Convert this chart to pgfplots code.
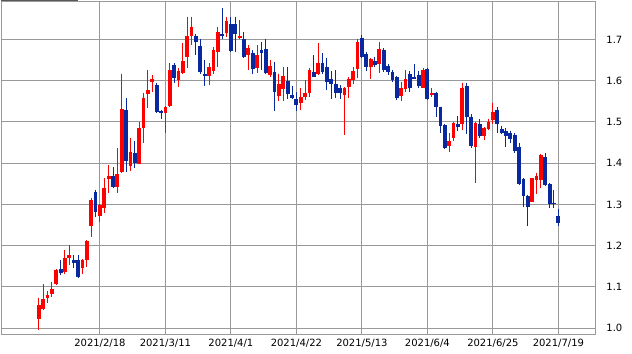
\documentclass[border=0pt]{standalone}
\usepackage{pgfplots}
\usepackage{pgfplotstable}
\pgfplotsset{compat=1.18}
\usepackage{fontspec}
\setmainfont{DejaVu Sans}
\definecolor{upred}{RGB}{255,0,0}
\definecolor{dnblue}{RGB}{8,40,160}
\definecolor{gridgray}{RGB}{153,153,153}

\pgfplotstableread{
i o h l c
-14 1.023 1.074 0.996 1.055
-13 1.046 1.107 1.043 1.071
-12 1.072 1.090 1.061 1.080
-11 1.084 1.113 1.075 1.095
-10 1.107 1.144 1.105 1.141
-8 1.137 1.190 1.131 1.170
-7 1.170 1.201 1.153 1.177
-4 1.147 1.168 1.131 1.165
-3 1.165 1.214 1.149 1.211
-2 1.248 1.315 1.222 1.311
0 1.272 1.300 1.258 1.299
1 1.292 1.363 1.278 1.339
2 1.362 1.395 1.327 1.369
4 1.343 1.436 1.328 1.374
5 1.379 1.617 1.375 1.531
7 1.394 1.460 1.382 1.426
9 1.399 1.500 1.397 1.486
10 1.486 1.571 1.449 1.558
11 1.567 1.625 1.534 1.577
12 1.597 1.613 1.573 1.604
15 1.521 1.538 1.474 1.535
16 1.538 1.642 1.535 1.625
18 1.601 1.630 1.585 1.623
19 1.619 1.690 1.616 1.647
20 1.658 1.755 1.630 1.708
21 1.708 1.755 1.686 1.730
25 1.612 1.642 1.589 1.632
26 1.623 1.682 1.616 1.674
27 1.670 1.730 1.633 1.717
29 1.716 1.755 1.706 1.744
32 1.704 1.747 1.700 1.708
34 1.663 1.686 1.625 1.678
36 1.631 1.686 1.619 1.662
39 1.613 1.650 1.609 1.635
41 1.563 1.617 1.551 1.592
42 1.579 1.633 1.551 1.611
46 1.546 1.581 1.530 1.560
47 1.561 1.601 1.553 1.569
48 1.569 1.630 1.561 1.625
50 1.616 1.690 1.613 1.643
56 1.565 1.584 1.468 1.581
57 1.585 1.608 1.558 1.605
58 1.601 1.633 1.591 1.623
59 1.628 1.700 1.607 1.694
62 1.633 1.654 1.604 1.652
64 1.640 1.694 1.619 1.676
69 1.563 1.597 1.550 1.583
70 1.579 1.625 1.573 1.605
74 1.583 1.630 1.581 1.625
76 1.565 1.581 1.561 1.569
80 1.442 1.472 1.428 1.453
81 1.461 1.500 1.454 1.498
83 1.494 1.595 1.480 1.583
86 1.440 1.499 1.352 1.497
88 1.466 1.488 1.456 1.486
89 1.483 1.508 1.480 1.500
90 1.504 1.546 1.496 1.524
99 1.307 1.365 1.307 1.363
100 1.360 1.377 1.325 1.369
101 1.359 1.422 1.339 1.420
}\up

\pgfplotstableread{
i o h l c
-9 1.144 1.165 1.130 1.134
-6 1.165 1.178 1.145 1.159
-5 1.165 1.177 1.122 1.124
-1 1.329 1.335 1.270 1.282
3 1.369 1.391 1.339 1.343
6 1.529 1.557 1.379 1.406
8 1.424 1.454 1.389 1.400
13 1.589 1.595 1.521 1.525
14 1.526 1.530 1.506 1.521
17 1.638 1.642 1.595 1.607
22 1.709 1.712 1.662 1.694
23 1.684 1.702 1.616 1.621
24 1.616 1.651 1.587 1.612
28 1.713 1.775 1.702 1.709
30 1.737 1.755 1.670 1.672
31 1.737 1.755 1.670 1.714
33 1.700 1.717 1.654 1.658
35 1.668 1.674 1.616 1.627
37 1.674 1.694 1.625 1.668
38 1.676 1.702 1.616 1.619
40 1.621 1.646 1.527 1.573
43 1.600 1.633 1.555 1.567
44 1.565 1.587 1.555 1.558
45 1.555 1.573 1.527 1.542
49 1.621 1.662 1.608 1.609
51 1.643 1.666 1.617 1.621
52 1.633 1.654 1.577 1.597
53 1.605 1.623 1.555 1.591
54 1.591 1.625 1.557 1.571
55 1.581 1.589 1.555 1.569
60 1.704 1.710 1.656 1.658
61 1.664 1.670 1.624 1.633
63 1.647 1.658 1.633 1.639
65 1.674 1.678 1.621 1.625
66 1.636 1.640 1.613 1.621
67 1.621 1.625 1.597 1.601
68 1.608 1.611 1.553 1.558
71 1.616 1.624 1.573 1.581
72 1.609 1.640 1.604 1.605
73 1.613 1.624 1.583 1.587
75 1.628 1.631 1.553 1.555
77 1.569 1.573 1.512 1.536
78 1.535 1.537 1.473 1.490
79 1.492 1.494 1.434 1.436
82 1.495 1.514 1.478 1.488
84 1.587 1.595 1.470 1.512
85 1.511 1.519 1.437 1.441
87 1.496 1.508 1.461 1.466
91 1.529 1.537 1.472 1.494
92 1.483 1.491 1.471 1.472
93 1.478 1.484 1.438 1.466
94 1.472 1.478 1.448 1.458
95 1.468 1.474 1.425 1.429
96 1.440 1.448 1.347 1.349
97 1.361 1.363 1.294 1.320
98 1.320 1.323 1.248 1.294
102 1.415 1.425 1.344 1.347
103 1.349 1.353 1.291 1.300
104 1.304 1.334 1.291 1.301
105 1.272 1.290 1.248 1.256
}\dn

\begin{document}
\begin{tikzpicture}
\begin{axis}[
  scale only axis,
  width=445.5pt, height=250.5pt,
  xmin=-22.5, xmax=113.4,
  ymin=0.9838, ymax=1.7925,
  xtick={0,15,30,45,60,75,90,105},
  xticklabels={2021/2/18,2021/3/11,2021/4/1,2021/4/22,2021/5/13,2021/6/4,2021/6/25,2021/7/19},
  ytick={1.0,1.1,1.2,1.3,1.4,1.5,1.6,1.7},
  yticklabel pos=right,
  yticklabel style={/pgf/number format/fixed, /pgf/number format/fixed zerofill, /pgf/number format/precision=1, /pgf/number format/assume math mode=true, /tikz/xshift=5pt},
  tick label style={font=\fontsize{7.5pt}{9pt}\selectfont, text=black},
  major tick length=0pt,
  grid=major,
  grid style={draw=gridgray, line width=0.75pt},
  axis line style={draw=gridgray, line width=0.75pt},
  clip=true,
  every axis plot/.append style={draw=none, mark=none},
]
% wicks
\addplot[draw=none, mark=none, error bars/.cd, y dir=minus, y explicit, error mark=none,
  error bar style={draw=upred, line width=0.75pt}]
  table[x=i, y=h, y error minus expr={\thisrow{h}-\thisrow{l}}] {\up};
\addplot[draw=none, mark=none, error bars/.cd, y dir=minus, y explicit, error mark=none,
  error bar style={draw=dnblue, line width=0.75pt}]
  table[x=i, y=h, y error minus expr={\thisrow{h}-\thisrow{l}}] {\dn};
% bodies
\addplot[draw=none, mark=none, error bars/.cd, y dir=minus, y explicit, error mark=none,
  error bar style={draw=upred, line width=2.85pt}]
  table[x=i, y=c, y error minus expr={max(\thisrow{c}-\thisrow{o},0.004)}] {\up};
\addplot[draw=none, mark=none, error bars/.cd, y dir=minus, y explicit, error mark=none,
  error bar style={draw=dnblue, line width=2.85pt}]
  table[x=i, y=o, y error minus expr={max(\thisrow{o}-\thisrow{c},0.004)}] {\dn};
\end{axis}
\draw[line width=1pt, black!65] ([xshift=-0.75pt, yshift=0.4pt]current axis.north west) -- ++(58pt,0);
\path ([xshift=-0.75pt, yshift=-14.25pt]current axis.south west) rectangle ++(474pt,265.5pt);
\end{tikzpicture}
\end{document}
